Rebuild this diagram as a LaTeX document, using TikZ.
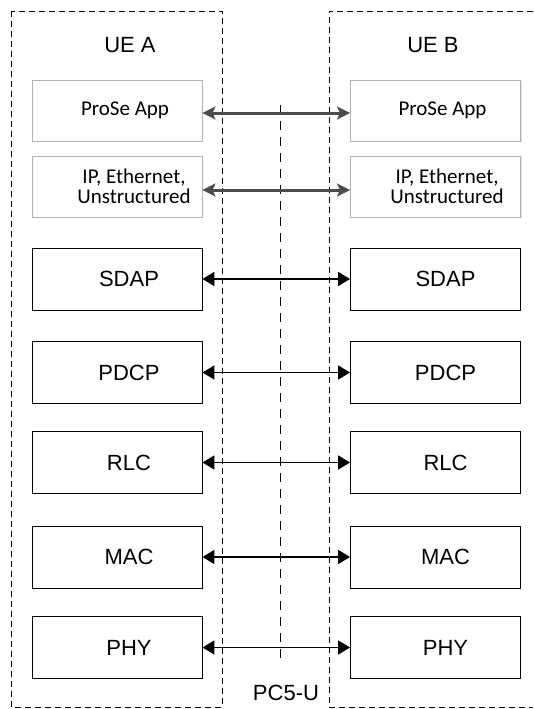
\documentclass[tikz,border=0pt]{standalone}
\usepackage{fontspec}
\setmainfont{Liberation Sans}
\newfontfamily\appfont{Carlito}
\usepackage{tikz}
\usetikzlibrary{arrows.meta,shadows,calc}

\tikzset{
  ue/.style={draw, line width=0.9pt, dash pattern=on 6pt off 4pt},
  layer/.style={draw, line width=0.9pt, minimum width=170pt, minimum height=62pt, inner sep=0pt},
  applayer/.style={draw=gray!60, line width=0.9pt, fill=white, minimum width=170pt, minimum height=61pt, inner sep=0pt,
    drop shadow={shadow xshift=1.2pt, shadow yshift=-1.2pt, opacity=0.25}},
  lbl/.style={font=\fontsize{22}{24}\selectfont},
  applbl/.style={font=\appfont\fontsize{21}{24}\selectfont, align=center},
  peer/.style={{Triangle[length=12pt,width=14pt]}-{Triangle[length=12pt,width=14pt]}, line width=1.8pt},
  apppeer/.style={{Stealth[length=13pt,width=13pt,inset=3pt]}-{Stealth[length=13pt,width=13pt,inset=3pt]}, line width=3pt, draw=black!70}
}

\begin{document}
\begin{tikzpicture}[x=1pt,y=-1pt]
\useasboundingbox (0,0) rectangle (533,709);

% the two UEs and the PC5 reference point
\draw[ue] (11,11) rectangle (222,707);
\draw[ue] (533,11) -- (329,11) -- (329,707) -- (533,707);
\draw[line width=0.9pt, dash pattern=on 9pt off 7pt] (280,105) -- (280,660);

\node[lbl] (uea) at (130,45) {UE A};
\node[lbl] (ueb) at (433,45) {UE B};
\node[lbl] (pc5) at (286,693) {PC5-U};

% upper layers
\node[applayer] (appA) at (117,110.5) {};
\node[applayer] (appB) at (435.5,110.5) {};
\node[applayer] (ipA) at (117,186.5) {};
\node[applayer] (ipB) at (435.5,186.5) {};
\node[applbl] at (125,110.5) {ProSe App};
\node[applbl] at (442.5,110.5) {ProSe App};
\node[applbl] at (134,186.5) {IP, Ethernet,\\[-4pt]Unstructured};
\node[applbl] at (447,186.5) {IP, Ethernet,\\[-4pt]Unstructured};

% user plane stack
\node[layer, label={[lbl,xshift=12pt]center:SDAP}] (sdapA) at (117,279) {};
\node[layer, label={[lbl,xshift=10pt]center:SDAP}] (sdapB) at (435.5,279) {};
\node[layer, label={[lbl,xshift=12pt]center:PDCP}] (pdcpA) at (117,372.5) {};
\node[layer, label={[lbl,xshift=10pt]center:PDCP}] (pdcpB) at (435.5,372.5) {};
\node[layer, label={[lbl,xshift=12pt]center:RLC}] (rlcA) at (117,462.5) {};
\node[layer, label={[lbl,xshift=10pt]center:RLC}] (rlcB) at (435.5,462.5) {};
\node[layer, label={[lbl,xshift=12pt]center:MAC}] (macA) at (117,557) {};
\node[layer, label={[lbl,xshift=10pt]center:MAC}] (macB) at (435.5,557) {};
\node[layer, label={[lbl,xshift=12pt]center:PHY}] (phyA) at (117,647.5) {};
\node[layer, label={[lbl,xshift=10pt]center:PHY}] (phyB) at (435.5,647.5) {};

% peer to peer
\draw[apppeer] ($(appA.east)+(0,2.5)$) -- ($(appB.west)+(0,2.5)$);
\draw[apppeer] ($(ipA.east)+(0,3.5)$) -- ($(ipB.west)+(0,3.5)$);
\draw[peer] (sdapA) -- (sdapB);
\draw[peer] (pdcpA) -- (pdcpB);
\draw[peer] (rlcA) -- (rlcB);
\draw[peer] (macA) -- (macB);
\draw[peer] (phyA) -- (phyB);
\end{tikzpicture}
\end{document}
